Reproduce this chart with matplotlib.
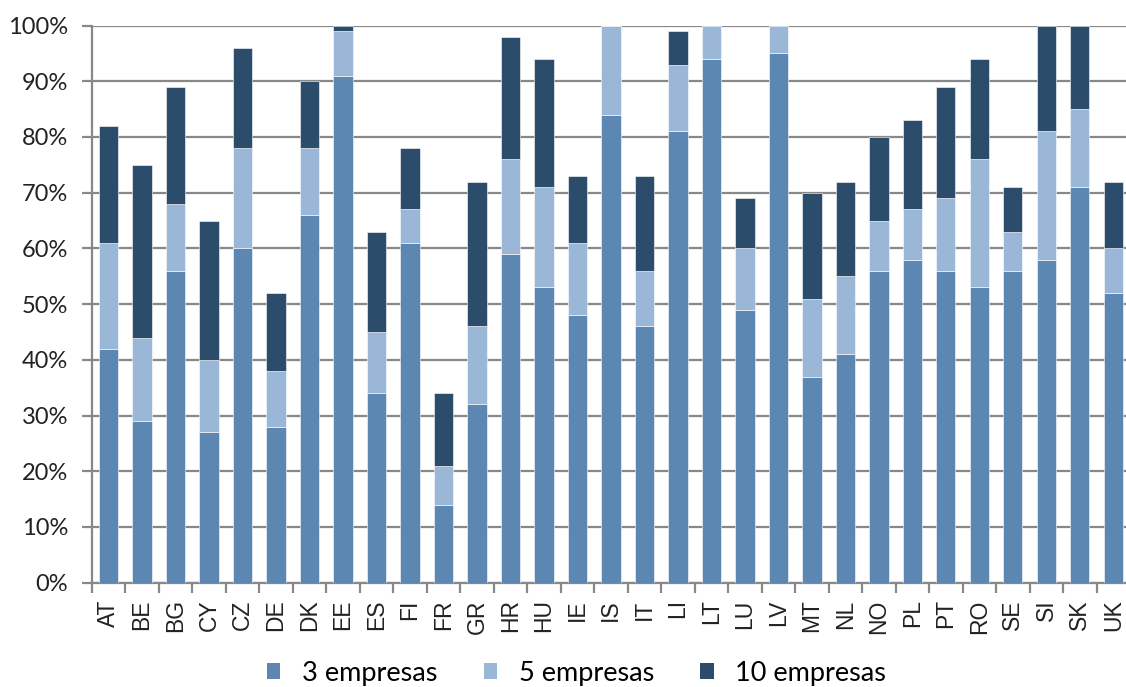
import numpy as np
import matplotlib
matplotlib.use("Agg")
import matplotlib.pyplot as plt
from matplotlib.patches import Patch
from matplotlib.ticker import PercentFormatter

# --- data (percent of market) ---
countries = ["AT", "BE", "BG", "CY", "CZ", "DE", "DK", "EE", "ES", "FI", "FR",
             "GR", "HR", "HU", "IE", "IS", "IT", "LI", "LT", "LU", "LV", "MT",
             "NL", "NO", "PL", "PT", "RO", "SE", "SI", "SK", "UK"]
top3 = [42, 29, 56, 27, 60, 28, 66, 91, 34, 61, 14,
        32, 59, 53, 48, 84, 46, 81, 94, 49, 95, 37,
        41, 56, 58, 56, 53, 56, 58, 71, 52]
extra5 = [19, 15, 12, 13, 18, 10, 12, 8, 11, 6, 7,
          14, 17, 18, 13, 16, 10, 12, 6, 11, 5, 14,
          14, 9, 9, 13, 23, 7, 23, 14, 8]
extra10 = [21, 31, 21, 25, 18, 14, 12, 1, 18, 11, 13,
           26, 22, 23, 12, 0, 17, 6, 0, 9, 0, 19,
           17, 15, 16, 20, 18, 8, 19, 15, 12]
series_names = ["3 empresas", "5 empresas", "10 empresas"]

colors = ["#5B87B2", "#9AB7D7", "#2B4D6B"]
grid_col = "#888888"

fig = plt.figure(figsize=(11.26, 6.87), dpi=100)
ax = fig.add_axes([91.7 / 1126, 1 - 582.7 / 687, (1130 - 91.7) / 1126, (582.7 - 25.5) / 687])

x = np.arange(len(countries))
bottom = np.zeros(len(countries))
for vals, col in zip([top3, extra5, extra10], colors):
    ax.bar(x, vals, width=0.58, bottom=bottom, color=col,
           edgecolor="white", linewidth=0.4, zorder=3)
    bottom += np.array(vals)

ax.set_xlim(-0.5, len(countries) - 0.5)
ax.set_ylim(0, 100)
ax.set_yticks(np.arange(0, 101, 10))
ax.yaxis.set_major_formatter(PercentFormatter(decimals=0))
ax.grid(axis="y", color=grid_col, linewidth=1.6, zorder=0)

# category labels, with tick marks on the boundaries
ax.set_xticks(x)
ax.set_xticklabels(countries, rotation=90, fontsize=16.5, family="Liberation Sans", color="#222222")
ax.set_xticks(np.arange(-0.5, len(countries)), minor=True)
ax.tick_params(axis="x", which="major", length=0, pad=12)
ax.tick_params(axis="x", which="minor", length=7, width=1.6, color=grid_col)
ax.tick_params(axis="y", length=7, width=1.6, color=grid_col, pad=10)
for lbl in ax.get_yticklabels():
    lbl.set_family("Lato")
    lbl.set_fontsize(17)
    lbl.set_color("#222222")

for s in ["top", "right"]:
    ax.spines[s].set_visible(False)
for s in ["left", "bottom"]:
    ax.spines[s].set_color(grid_col)
    ax.spines[s].set_linewidth(1.6)

handles = [Patch(facecolor=c, edgecolor="none") for c in colors]
fig.legend(handles, series_names, loc="center", bbox_to_anchor=(0.512, 0.02),
           ncol=3, frameon=False, prop={"family": "Lato", "size": 19.5},
           handlelength=0.5, handleheight=0.5, handletextpad=0.8,
           columnspacing=1.7)

fig.savefig("out.png", dpi=100)
